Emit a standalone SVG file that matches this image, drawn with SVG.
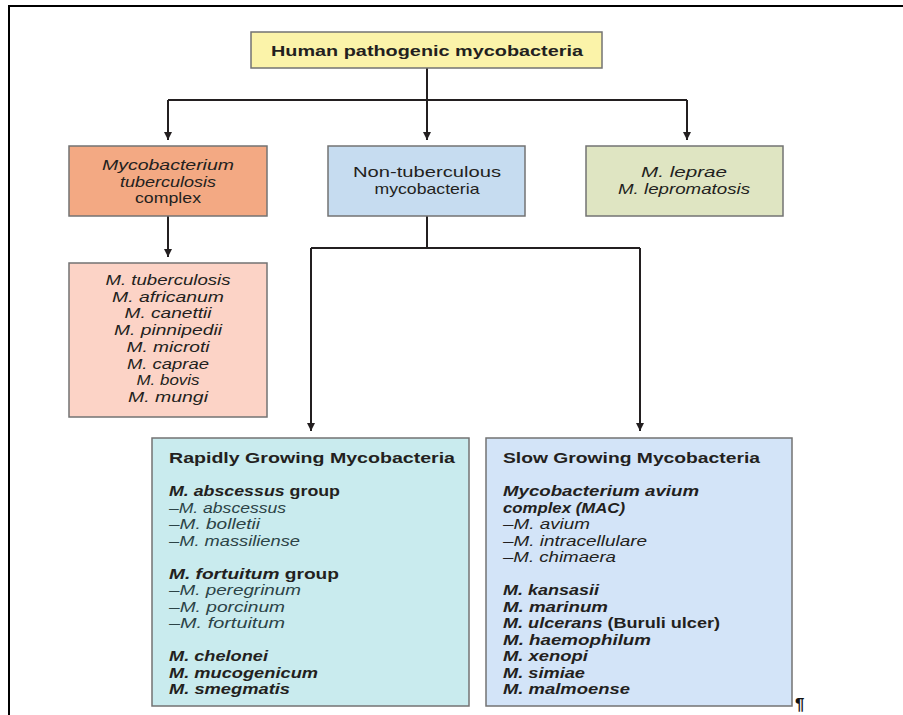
<svg xmlns="http://www.w3.org/2000/svg" width="903" height="715" viewBox="0 0 903 715">
<defs>
<marker id="ah" viewBox="0 0 10 10" refX="10" refY="5" markerWidth="8" markerHeight="8" markerUnits="userSpaceOnUse" orient="auto">
<path d="M0,0 L10,5 L0,10 z" fill="#231f20"/>
</marker>
<style>
text{font-family:"Liberation Sans",Arial,sans-serif;font-size:14.5px;fill:#231f20;}
.box{stroke:#737373;stroke-width:1.5;}
.c{text-anchor:middle;}
.i{font-style:italic;}
.b{font-weight:bold;}
.bi{font-weight:bold;font-style:italic;}
.sub{font-style:italic;fill:#2c4346;}
.conn{stroke:#231f20;stroke-width:2;fill:none;}
.frame{stroke:#000;stroke-width:2;fill:none;}
</style>
</defs>
<rect width="903" height="715" fill="#fff"/>
<path class="frame" d="M9,715 V6 H903"/>

<g id="connectors">
<path class="conn" d="M427,68 V100 M168,100 H687"/>
<path class="conn" d="M168,100 V140" marker-end="url(#ah)"/>
<path class="conn" d="M427,100 V140" marker-end="url(#ah)"/>
<path class="conn" d="M687,100 V140" marker-end="url(#ah)"/>
<path class="conn" d="M168,216 V257" marker-end="url(#ah)"/>
<path class="conn" d="M427,216 V248 M311,248 H640"/>
<path class="conn" d="M311,248 V431" marker-end="url(#ah)"/>
<path class="conn" d="M640,248 V431" marker-end="url(#ah)"/>
</g>

<g id="root">
<rect class="box" x="251" y="32" width="351" height="36" fill="#fbf3a9"/>
<text class="c b" x="427" y="55.5" textLength="312" lengthAdjust="spacingAndGlyphs" style="font-size:15px">Human pathogenic mycobacteria</text>
</g>

<g id="mtb-complex">
<rect class="box" x="69" y="146" width="198" height="70" fill="#f3a983"/>
<text class="c i" x="168" y="170" textLength="132" lengthAdjust="spacingAndGlyphs">Mycobacterium</text>
<text class="c i" x="168" y="186.5" textLength="96" lengthAdjust="spacingAndGlyphs">tuberculosis</text>
<text class="c" x="168" y="203" textLength="66" lengthAdjust="spacingAndGlyphs">complex</text>
</g>

<g id="ntm">
<rect class="box" x="328" y="146" width="197" height="70" fill="#c6dcf0"/>
<text class="c" x="427" y="177" textLength="148" lengthAdjust="spacingAndGlyphs">Non-tuberculous</text>
<text class="c" x="427" y="193.5" textLength="105" lengthAdjust="spacingAndGlyphs">mycobacteria</text>
</g>

<g id="leprae">
<rect class="box" x="586" y="146" width="197" height="70" fill="#dfe5c2"/>
<text class="c i" x="684" y="177" textLength="86" lengthAdjust="spacingAndGlyphs">M. leprae</text>
<text class="c i" x="684" y="193.5" textLength="132" lengthAdjust="spacingAndGlyphs">M. lepromatosis</text>
</g>

<g id="mtb-species">
<rect class="box" x="69" y="263" width="198" height="154" fill="#fcd3c6"/>
<text class="c i" x="168" y="285" textLength="125" lengthAdjust="spacingAndGlyphs">M. tuberculosis</text>
<text class="c i" x="168" y="301.7" textLength="112" lengthAdjust="spacingAndGlyphs">M. africanum</text>
<text class="c i" x="168" y="318.4" textLength="87" lengthAdjust="spacingAndGlyphs">M. canettii</text>
<text class="c i" x="168" y="335.1" textLength="108" lengthAdjust="spacingAndGlyphs">M. pinnipedii</text>
<text class="c i" x="168" y="351.8" textLength="83" lengthAdjust="spacingAndGlyphs">M. microti</text>
<text class="c i" x="168" y="368.5" textLength="82" lengthAdjust="spacingAndGlyphs">M. caprae</text>
<text class="c i" x="168" y="385.2" textLength="63" lengthAdjust="spacingAndGlyphs">M. bovis</text>
<text class="c i" x="168" y="401.9" textLength="80" lengthAdjust="spacingAndGlyphs">M. mungi</text>
</g>

<g id="rapid">
<rect class="box" x="152" y="438" width="317" height="268" fill="#c9ebee"/>
<text class="b" x="169" y="463" textLength="286" lengthAdjust="spacingAndGlyphs">Rapidly Growing Mycobacteria</text>
<text x="169" y="496" textLength="171" lengthAdjust="spacingAndGlyphs"><tspan class="bi">M. abscessus</tspan><tspan class="b"> group</tspan></text>
<text class="sub" x="169" y="512.5" textLength="117" lengthAdjust="spacingAndGlyphs">–M. abscessus</text>
<text class="sub" x="169" y="529" textLength="91" lengthAdjust="spacingAndGlyphs">–M. bolletii</text>
<text class="sub" x="169" y="545.5" textLength="131" lengthAdjust="spacingAndGlyphs">–M. massiliense</text>
<text x="169" y="578.5" textLength="170" lengthAdjust="spacingAndGlyphs"><tspan class="bi">M. fortuitum</tspan><tspan class="b"> group</tspan></text>
<text class="sub" x="169" y="595" textLength="132" lengthAdjust="spacingAndGlyphs">–M. peregrinum</text>
<text class="sub" x="169" y="611.5" textLength="116" lengthAdjust="spacingAndGlyphs">–M. porcinum</text>
<text class="sub" x="169" y="628" textLength="116" lengthAdjust="spacingAndGlyphs">–M. fortuitum</text>
<text class="bi" x="169" y="661" textLength="99" lengthAdjust="spacingAndGlyphs">M. chelonei</text>
<text class="bi" x="169" y="677.5" textLength="149" lengthAdjust="spacingAndGlyphs">M. mucogenicum</text>
<text class="bi" x="169" y="694" textLength="121" lengthAdjust="spacingAndGlyphs">M. smegmatis</text>
</g>

<g id="slow">
<rect class="box" x="486" y="438" width="306" height="268" fill="#d3e4f8"/>
<text class="b" x="503" y="463" textLength="257" lengthAdjust="spacingAndGlyphs">Slow Growing Mycobacteria</text>
<text class="bi" x="503" y="496" textLength="196" lengthAdjust="spacingAndGlyphs">Mycobacterium avium</text>
<text class="bi" x="503" y="512.5" textLength="122" lengthAdjust="spacingAndGlyphs">complex (MAC)</text>
<text class="i" x="503" y="529" textLength="87" lengthAdjust="spacingAndGlyphs">–M. avium</text>
<text class="i" x="503" y="545.5" textLength="144" lengthAdjust="spacingAndGlyphs">–M. intracellulare</text>
<text class="i" x="503" y="562" textLength="113" lengthAdjust="spacingAndGlyphs">–M. chimaera</text>
<text class="bi" x="503" y="595" textLength="96" lengthAdjust="spacingAndGlyphs">M. kansasii</text>
<text class="bi" x="503" y="611.5" textLength="105" lengthAdjust="spacingAndGlyphs">M. marinum</text>
<text x="503" y="628" textLength="217" lengthAdjust="spacingAndGlyphs"><tspan class="bi">M. ulcerans</tspan><tspan class="b"> (Buruli ulcer)</tspan></text>
<text class="bi" x="503" y="644.5" textLength="148" lengthAdjust="spacingAndGlyphs">M. haemophilum</text>
<text class="bi" x="503" y="661" textLength="85" lengthAdjust="spacingAndGlyphs">M. xenopi</text>
<text class="bi" x="503" y="677.5" textLength="82" lengthAdjust="spacingAndGlyphs">M. simiae</text>
<text class="bi" x="503" y="694" textLength="127" lengthAdjust="spacingAndGlyphs">M. malmoense</text>
</g>

<text class="b" x="795" y="710" style="font-size:17px;fill:#111">¶</text>
</svg>
